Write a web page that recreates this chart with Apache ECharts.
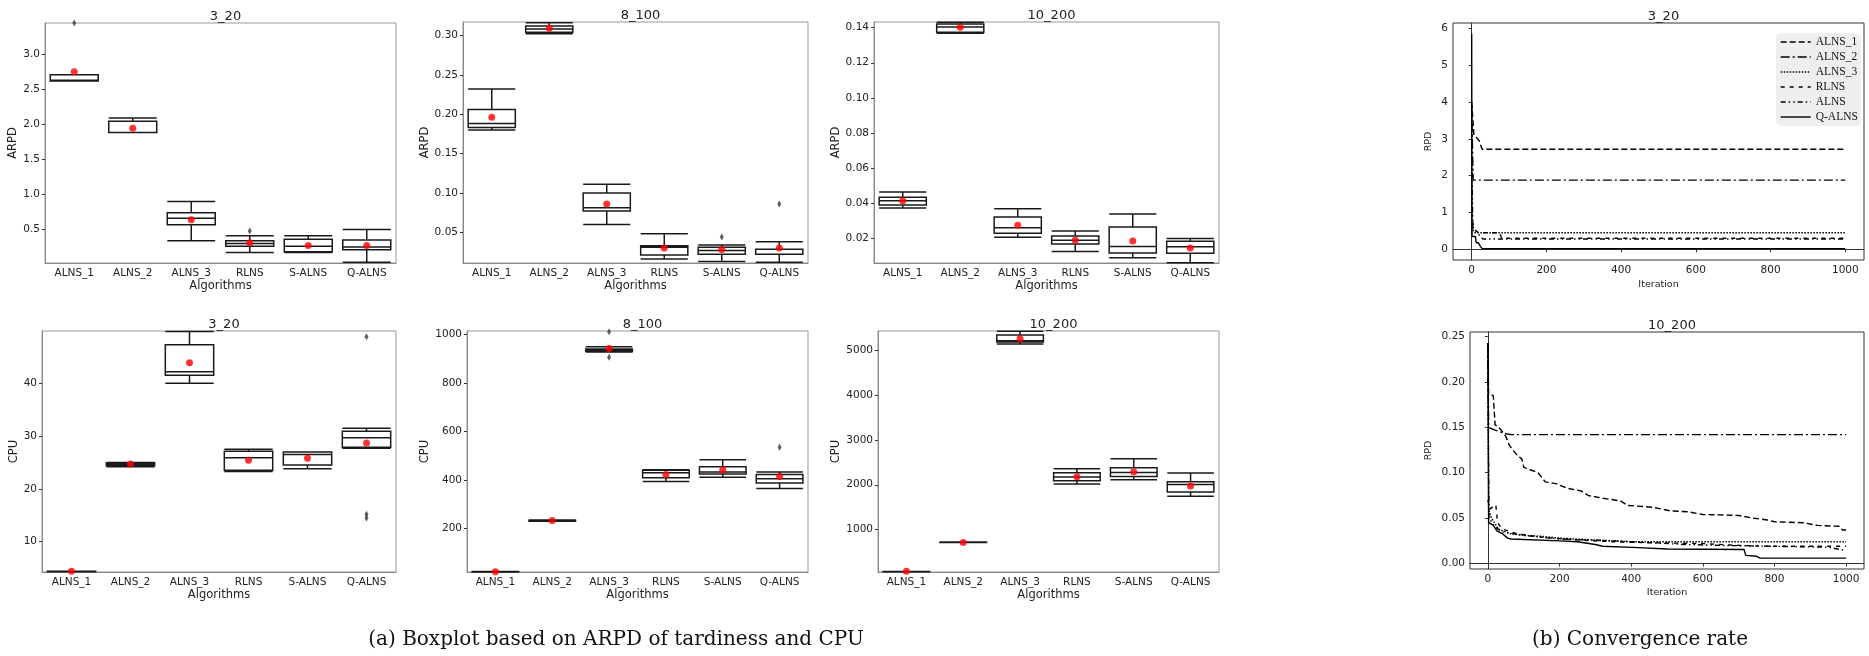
<!DOCTYPE html>
<html>
<head>
<meta charset="utf-8">
<title>Boxplot of ARPD / CPU and convergence rate</title>
<script src="https://cdn.jsdelivr.net/npm/echarts@6/dist/echarts.min.js"></script>
<style>
  html, body { margin: 0; padding: 0; background: #fff; }
  #main { width: 1869px; height: 656px; }
</style>
</head>
<body>
<div id="main"></div>
<script>
// categories
var algorithms = ['ALNS_1', 'ALNS_2', 'ALNS_3', 'RLNS', 'S-ALNS', 'Q-ALNS'];

// boxplot stats per algorithm: [min, Q1, median, Q3, max]
var arpd320 = [[2.62, 2.62, 2.63, 2.71, 2.71], [1.88, 1.88, 1.88, 2.04, 2.09], [0.33, 0.56, 0.65, 0.73, 0.89],
               [0.16, 0.25, 0.29, 0.33, 0.40], [0.16, 0.17, 0.25, 0.35, 0.40], [0.02, 0.20, 0.24, 0.34, 0.49]];
var arpdMean320 = [2.75, 1.94, 0.63, 0.30, 0.26, 0.26];
var arpdOut320 = [['ALNS_1', 3.45], ['RLNS', 0.47]];

var arpd8100 = [[0.180, 0.183, 0.188, 0.206, 0.232], [0.302, 0.304, 0.308, 0.312, 0.316], [0.060, 0.077, 0.081, 0.100, 0.111],
                [0.016, 0.021, 0.031, 0.033, 0.048], [0.013, 0.022, 0.027, 0.031, 0.034], [0.012, 0.022, 0.022, 0.0285, 0.038]];
var arpdMean8100 = [0.196, 0.309, 0.086, 0.030, 0.028, 0.030];
var arpdOut8100 = [['S-ALNS', 0.044], ['Q-ALNS', 0.086]];

var arpd10200 = [[0.0373, 0.0390, 0.0414, 0.0435, 0.0464], [0.1368, 0.1373, 0.1404, 0.1421, 0.1430], [0.0206, 0.0230, 0.0261, 0.0322, 0.0369],
                 [0.0126, 0.0168, 0.0189, 0.0213, 0.0242], [0.0090, 0.0117, 0.0154, 0.0265, 0.0339], [0.0062, 0.0115, 0.0153, 0.0184, 0.0200]];
var arpdMean10200 = [0.0414, 0.1402, 0.0275, 0.0189, 0.0185, 0.0146];
var arpdOut10200 = [];

var cpu320 = [[4.3, 4.3, 4.3, 4.4, 4.4], [24.2, 24.4, 24.6, 24.9, 25.0], [40.0, 41.5, 42.2, 47.3, 49.8],
              [23.3, 23.5, 25.9, 27.1, 27.5], [23.8, 24.5, 26.5, 27.0, 27.0], [27.7, 27.9, 29.7, 30.9, 31.5]];
var cpuMean320 = [4.4, 24.7, 43.9, 25.4, 25.8, 28.7];
var cpuOut320 = [['Q-ALNS', 48.8], ['Q-ALNS', 15.2], ['Q-ALNS', 14.5]];

var cpu8100 = [[21, 22, 22, 23, 23], [230, 231, 232, 234, 235], [927, 930, 936, 940, 949],
               [394, 409, 430, 440, 442], [411, 425, 433, 455, 484], [365, 388, 405, 423, 433]];
var cpuMean8100 = [22, 233, 942, 423, 441, 414];
var cpuOut8100 = [['ALNS_3', 1011], ['ALNS_3', 906], ['Q-ALNS', 535]];

var cpu10200 = [[55, 58, 60, 62, 65], [710, 713, 716, 718, 720], [5142, 5187, 5216, 5343, 5425],
                [2015, 2090, 2172, 2269, 2358], [2112, 2187, 2276, 2381, 2582], [1746, 1836, 2007, 2067, 2261]];
var cpuMean10200 = [67, 710, 5261, 2179, 2291, 1970];
var cpuOut10200 = [];

// tick labels
var arpdTicks320 = [0.5, 1.0, 1.5, 2.0, 2.5, 3.0];
var arpdTicks8100 = [0.05, 0.10, 0.15, 0.20, 0.25, 0.30];
var arpdTicks10200 = [0.02, 0.04, 0.06, 0.08, 0.10, 0.12, 0.14];
var cpuTicks320 = [10, 20, 30, 40];
var cpuTicks8100 = [200, 400, 600, 800, 1000];
var cpuTicks10200 = [1000, 2000, 3000, 4000, 5000];
var iterTicks = [0, 200, 400, 600, 800, 1000];
var rpdTicks320 = [0, 1, 2, 3, 4, 5, 6];
var rpdTicks10200 = [0, 0.05, 0.10, 0.15, 0.20, 0.25];

// convergence, instance 3_20 (iteration, RPD)
var convNames = ['ALNS_1', 'ALNS_2', 'ALNS_3', 'RLNS', 'ALNS', 'Q-ALNS'];
var iter320Alns1 = [0, 4, 6, 12, 20, 28, 1000];
var rpd320Alns1  = [4.0, 3.95, 3.1, 3.05, 2.95, 2.72, 2.72];
var iter320Alns2 = [0, 4, 1000];
var rpd320Alns2  = [3.9, 1.88, 1.88];
var iter320Alns3 = [0, 5, 8, 1000];
var rpd320Alns3  = [0.6, 0.55, 0.45, 0.45];
var iter320Rlns  = [0, 5, 12, 20, 75, 80, 1000];
var rpd320Rlns   = [1.0, 0.6, 0.5, 0.45, 0.45, 0.30, 0.30];
var iter320Alns  = [0, 3, 10, 30, 1000];
var rpd320Alns   = [3.0, 0.6, 0.5, 0.28, 0.28];
var iter320Qalns = [0, 1, 10, 12, 18, 22, 28, 1000];
var rpd320Qalns  = [5.86, 0.35, 0.35, 0.18, 0.18, 0.10, 0.02, 0.02];

// convergence, instance 10_200
var iter10200Alns1 = [0, 2, 15, 20, 35, 50, 60, 80, 95, 100, 140, 160, 190, 220, 260, 280, 320, 370, 390, 460, 510, 560, 600, 700, 740, 780, 800, 880, 920, 980, 990, 1000];
var rpd10200Alns1  = [0.243, 0.187, 0.185, 0.153, 0.148, 0.140, 0.130, 0.120, 0.115, 0.106, 0.100, 0.090, 0.088, 0.083, 0.080, 0.075, 0.072, 0.069, 0.064, 0.062, 0.058, 0.057, 0.054, 0.053, 0.050, 0.048, 0.046, 0.045, 0.042, 0.041, 0.037, 0.037];
var iter10200Alns2 = [0, 2, 20, 50, 65, 1000];
var rpd10200Alns2  = [0.243, 0.150, 0.147, 0.143, 0.142, 0.142];
var iter10200Alns3 = [0, 2, 10, 30, 60, 100, 150, 200, 300, 400, 1000];
var rpd10200Alns3  = [0.240, 0.060, 0.050, 0.038, 0.033, 0.031, 0.030, 0.028, 0.026, 0.024, 0.024];
var iter10200Rlns  = [0, 5, 22, 27, 40, 80, 150, 250, 350, 450, 600, 700, 780, 1000];
var rpd10200Rlns   = [0.070, 0.060, 0.065, 0.045, 0.038, 0.033, 0.029, 0.026, 0.024, 0.023, 0.022, 0.020, 0.019, 0.019];
var iter10200Alns  = [0, 3, 20, 40, 100, 200, 350, 450, 550, 650, 800, 950, 990, 1000];
var rpd10200Alns   = [0.243, 0.050, 0.040, 0.035, 0.031, 0.027, 0.025, 0.023, 0.021, 0.020, 0.019, 0.018, 0.015, 0.015];
var iter10200Qalns = [0, 2, 15, 25, 40, 55, 65, 200, 250, 300, 320, 420, 500, 715, 720, 750, 760, 1000];
var rpd10200Qalns  = [0.243, 0.045, 0.042, 0.036, 0.033, 0.028, 0.027, 0.025, 0.024, 0.021, 0.019, 0.0175, 0.016, 0.0155, 0.009, 0.008, 0.006, 0.006];

function zip(xs, ys) {
  return xs.map(function (x, i) { return [x, ys[i]]; });
}

var conv320 = [
  zip(iter320Alns1, rpd320Alns1), zip(iter320Alns2, rpd320Alns2), zip(iter320Alns3, rpd320Alns3),
  zip(iter320Rlns, rpd320Rlns), zip(iter320Alns, rpd320Alns), zip(iter320Qalns, rpd320Qalns)
];
var conv10200 = [
  zip(iter10200Alns1, rpd10200Alns1), zip(iter10200Alns2, rpd10200Alns2), zip(iter10200Alns3, rpd10200Alns3),
  zip(iter10200Rlns, rpd10200Rlns), zip(iter10200Alns, rpd10200Alns), zip(iter10200Qalns, rpd10200Qalns)
];

// dash patterns for the convergence lines
var dashes = [[6, 3], [9, 3, 2, 3], [1.5, 1.5], [4, 5], [5, 3, 1.5, 3, 1.5, 3], 'solid'];

var font = 'DejaVu Sans';
var txt = '#222';

var boxPanels = [
  { title: '3_20', yName: 'ARPD', stats: arpd320, mean: arpdMean320, out: arpdOut320, ticks: arpdTicks320, min: 0.01, max: 3.45, dec: 1, rect: [45, 23, 351, 240], yGap: 24 },
  { title: '8_100', yName: 'ARPD', stats: arpd8100, mean: arpdMean8100, out: arpdOut8100, ticks: arpdTicks8100, min: 0.011, max: 0.317, dec: 2, rect: [463, 22, 345, 241], yGap: 30 },
  { title: '10_200', yName: 'ARPD', stats: arpd10200, mean: arpdMean10200, out: arpdOut10200, ticks: arpdTicks10200, min: 0.006, max: 0.1432, dec: 2, rect: [874, 22, 345, 241], yGap: 30 },
  { title: '3_20', yName: 'CPU', stats: cpu320, mean: cpuMean320, out: cpuOut320, ticks: cpuTicks320, min: 4.25, max: 49.9, dec: 0, rect: [42, 331, 354, 241], yGap: 21 },
  { title: '8_100', yName: 'CPU', stats: cpu8100, mean: cpuMean8100, out: cpuOut8100, ticks: cpuTicks8100, min: 21, max: 1014, dec: 0, rect: [467, 331, 341, 241], yGap: 34 },
  { title: '10_200', yName: 'CPU', stats: cpu10200, mean: cpuMean10200, out: cpuOut10200, ticks: cpuTicks10200, min: 52, max: 5433, dec: 0, rect: [878, 331, 341, 241], yGap: 34 }
];

var convPanels = [
  { title: '3_20', data: conv320, ticks: rpdTicks320, min: -0.29, max: 6.15, dec: 0, rect: [1453, 23, 411, 237], yGap: 19, xGap: 20 },
  { title: '10_200', data: conv10200, ticks: rpdTicks10200, min: -0.006, max: 0.255, dec: 2, rect: [1470, 332, 394, 237], yGap: 36, xGap: 19 }
];

var grids = [], xAxes = [], yAxes = [], series = [], titles = [];

function axisText(size) {
  return { fontFamily: font, fontSize: size, color: txt };
}

boxPanels.forEach(function (p, i) {
  var r = p.rect;
  grids.push({ left: r[0], top: r[1], width: r[2], height: r[3], show: true, borderColor: '#999', borderWidth: 1, outerBoundsMode: 'none' });
  titles.push({ text: p.title, left: r[0] + r[2] / 2, top: r[1] - 18, textAlign: 'center',
    textStyle: { fontFamily: font, fontSize: 13, fontWeight: 'normal', color: txt } });
  xAxes.push({
    type: 'category', gridIndex: i, data: algorithms,
    name: 'Algorithms', nameLocation: 'middle', nameGap: 16, nameTextStyle: axisText(11.5),
    axisLine: { lineStyle: { color: '#888' } },
    axisTick: { alignWithLabel: true, length: 3, lineStyle: { color: '#333' } },
    axisLabel: Object.assign({ margin: 5 }, axisText(10.5)),
    splitLine: { show: false }
  });
  yAxes.push({
    type: 'value', gridIndex: i, min: p.min, max: p.max,
    name: p.yName, nameLocation: 'middle', nameGap: p.yGap, nameRotate: 90, nameTextStyle: axisText(11.5),
    axisLine: { show: true, lineStyle: { color: '#888' } },
    axisTick: { show: true, length: 3, customValues: p.ticks, lineStyle: { color: '#333' } },
    axisLabel: Object.assign({ margin: 5, customValues: p.ticks, formatter: function (v) { return v.toFixed(p.dec); } }, axisText(10.5)),
    splitLine: { show: false }
  });
  series.push({
    type: 'boxplot', name: 'box' + i, xAxisIndex: i, yAxisIndex: i,
    data: p.stats, boxWidth: ['82%', '82%'],
    itemStyle: { color: '#fff', borderColor: '#1a1a1a', borderWidth: 1.5 },
    emphasis: { disabled: true }
  });
  series.push({
    type: 'scatter', name: 'out' + i, xAxisIndex: i, yAxisIndex: i,
    data: p.out, symbol: 'diamond', symbolSize: [4, 7],
    itemStyle: { color: '#3a3a3a' }, z: 5
  });
  series.push({
    type: 'scatter', name: 'mean' + i, xAxisIndex: i, yAxisIndex: i,
    data: p.mean.map(function (v, k) { return [algorithms[k], v]; }),
    symbol: 'circle', symbolSize: 7, itemStyle: { color: '#ff0000' }, z: 6
  });
});

convPanels.forEach(function (p, j) {
  var i = boxPanels.length + j;
  var r = p.rect;
  grids.push({ left: r[0], top: r[1], width: r[2], height: r[3], show: true, borderColor: '#333', borderWidth: 1, outerBoundsMode: 'none' });
  titles.push({ text: p.title, left: r[0] + r[2] / 2, top: r[1] - 18, textAlign: 'center',
    textStyle: { fontFamily: font, fontSize: 13, fontWeight: 'normal', color: txt } });
  xAxes.push({
    type: 'value', gridIndex: i, min: -50, max: 1050,
    name: 'Iteration', nameLocation: 'middle', nameGap: p.xGap, nameTextStyle: axisText(9.5),
    axisLine: { lineStyle: { color: '#333' } },
    axisTick: { length: 3, customValues: iterTicks, lineStyle: { color: '#333' } },
    axisLabel: Object.assign({ margin: 5, customValues: iterTicks, formatter: function (v) { return String(v); } }, axisText(10.5)),
    splitLine: { show: false }
  });
  yAxes.push({
    type: 'value', gridIndex: i, min: p.min, max: p.max,
    name: 'RPD', nameLocation: 'middle', nameGap: p.yGap, nameRotate: 90, nameTextStyle: axisText(9.5),
    axisLine: { show: true, lineStyle: { color: '#333' } },
    axisTick: { show: true, length: 3, customValues: p.ticks, lineStyle: { color: '#333' } },
    axisLabel: Object.assign({ margin: 5, customValues: p.ticks, formatter: function (v) { return v.toFixed(p.dec); } }, axisText(10.5)),
    splitLine: { show: false }
  });
  p.data.forEach(function (d, k) {
    series.push({
      type: 'line', name: convNames[k], xAxisIndex: i, yAxisIndex: i,
      data: d, symbol: 'none', showSymbol: false,
      lineStyle: { color: '#000', width: 1.4, type: dashes[k] },
      itemStyle: { color: '#000' },
      z: k === 5 ? 4 : 3
    });
  });
});

var chart = echarts.init(document.getElementById('main'), null, { renderer: 'canvas' });
chart.setOption({
  animation: false,
  backgroundColor: '#fff',
  title: titles,
  grid: grids,
  xAxis: xAxes,
  yAxis: yAxes,
  legend: {
    data: convNames,
    orient: 'vertical', left: 1776, top: 33,
    backgroundColor: 'rgba(235,235,235,0.85)', borderRadius: 5,
    padding: [3, 3, 3, 4], itemGap: 3, itemWidth: 30, itemHeight: 12,
    itemStyle: { opacity: 0 },
    lineStyle: { width: 1.4 },
    textStyle: { fontFamily: 'Liberation Serif', fontSize: 11.5, color: '#111' }
  },
  series: series,
  graphic: [
    // sub-figure captions
    { type: 'text', x: 616, y: 640, style: { text: '(a) Boxplot based on ARPD of tardiness and CPU', font: '20px "DejaVu Serif"', fill: '#111', textAlign: 'center', textVerticalAlign: 'middle' } },
    { type: 'text', x: 1640, y: 640, style: { text: '(b) Convergence rate', font: '20px "DejaVu Serif"', fill: '#111', textAlign: 'center', textVerticalAlign: 'middle' } }
  ]
});
</script>
</body>
</html>
